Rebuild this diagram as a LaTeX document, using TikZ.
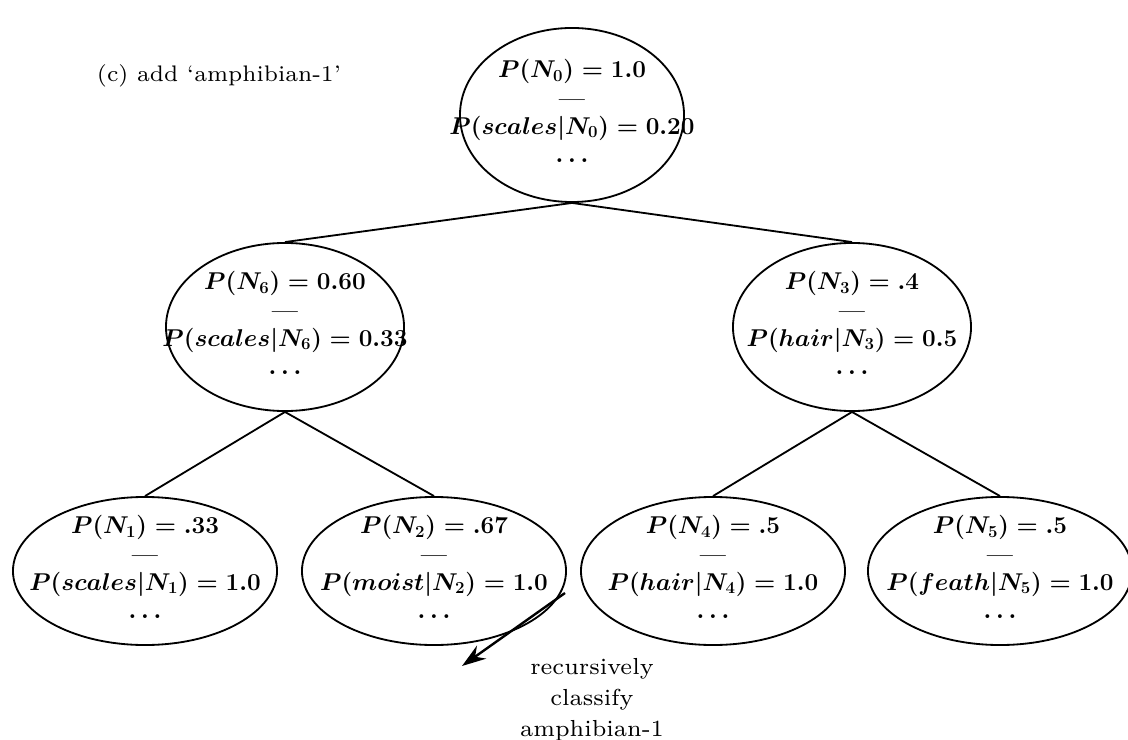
\documentclass[tikz,border=0pt]{standalone}
\usepackage{fontspec}
\newfontfamily\notefont{lmroman7-regular.otf}[Ligatures=TeX]
\usetikzlibrary{arrows.meta, positioning, calc, shapes.geometric}

\begin{document}
\begin{tikzpicture}[
  x=0.025cm, y=-0.025cm,
  >={Stealth[length=6mm, width=4mm, inset=2mm]},
  edge/.style={draw=black, line width=1.3pt},
  arr/.style={draw=black, line width=1.7pt, ->},
  ell/.style={ellipse, draw=black, line width=1.3pt, inner sep=0pt},
  top/.style={ell, minimum width=5.6cm, minimum height=4.35cm},
  mid/.style={ell, minimum width=5.95cm, minimum height=4.2cm},
  low/.style={ell, minimum width=6.6cm, minimum height=3.7cm},
  prob/.style={align=center, inner sep=0pt,
    font=\fontsize{16.5}{20}\selectfont\boldmath},
  note/.style={align=center, font=\notefont\fontsize{16.5}{22}\selectfont},
]

\useasboundingbox (0,0) rectangle (1128,740);

% Title
\node[note, anchor=west, font=\notefont\fontsize{16}{20}\selectfont] (title) at (92,76) {(c) add `amphibian-1'};

% === Root ===
\node[top] (n0) at (572,115) {};
\node[prob] (t0) at ($(n0)+(0,-4)$) {$P(N_0) = 1.0$\\\textbf{---}\\$P(scales|N_0) = 0.20$\\$\dots$};

% === Second level ===
\node[mid] (n6) at (285,327) {};
\node[prob] (t6) at ($(n6)+(0,-4)$) {$P(N_6) = 0.60$\\\textbf{---}\\$P(scales|N_6) = 0.33$\\$\dots$};

\node[mid] (n3) at (852,327) {};
\node[prob] (t3) at ($(n3)+(0,-4)$) {$P(N_3) = .4$\\\textbf{---}\\$P(hair|N_3) = 0.5$\\$\dots$};

% === Leaves ===
\node[low] (n1) at (145,571) {};
\node[prob] (t1) at ($(n1)+(0,-4)$) {$P(N_1) = .33$\\\textbf{---}\\$P(scales|N_1) = 1.0$\\$\dots$};

\node[low] (n2) at (434,571) {};
\node[prob] (t2) at ($(n2)+(0,-4)$) {$P(N_2) = .67$\\\textbf{---}\\$P(moist|N_2) = 1.0$\\$\dots$};

\node[low] (n4) at (713,571) {};
\node[prob] (t4) at ($(n4)+(0,-4)$) {$P(N_4) = .5$\\\textbf{---}\\$P(hair|N_4) = 1.0$\\$\dots$};

\node[low] (n5) at (1000,571) {};
\node[prob] (t5) at ($(n5)+(0,-4)$) {$P(N_5) = .5$\\\textbf{---}\\$P(feath|N_5) = 1.0$\\$\dots$};

% Tree edges
\draw[edge] (n0.south) -- (n6.north);
\draw[edge] (n0.south) -- (n3.north);
\draw[edge] (n6.south) -- (n1.north);
\draw[edge] (n6.south) -- (n2.north);
\draw[edge] (n3.south) -- (n4.north);
\draw[edge] (n3.south) -- (n5.north);

% Recursion arrow
\coordinate (from) at (565,593);
\coordinate (to) at (462,666);
\draw[arr] (from) -- (to);
\node[note] (rec) at (592,700) {recursively\\classify\\amphibian-1};

\end{tikzpicture}
\end{document}
